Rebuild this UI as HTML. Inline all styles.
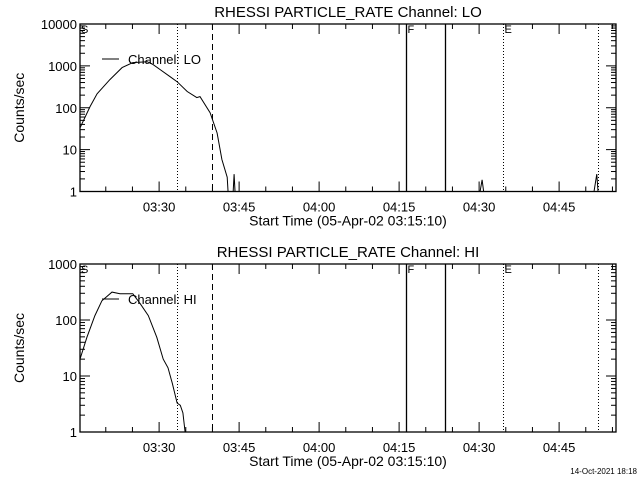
<!DOCTYPE html>
<html><head><meta charset="utf-8"><style>
html,body{margin:0;padding:0;background:#fff}
svg text{font-family:"Liberation Sans",sans-serif;fill:#000}
</style></head><body>
<svg id="c" width="640" height="480" xmlns="http://www.w3.org/2000/svg"></svg>
<script>
// data: minutes since 03:15:10, counts/sec
const loMinutes=[0,1.9,3.2,5.6,7.9,9.9,12.6,13.7,15.0,16.9,18.2,20.1,21.9,22.5,24.4,25.7,26.6,27.6,27.9,28.6,28.9,29.2,29.6,74.6,75.4,76.0,96.0,96.9,97.3];
const loValues=[33,107,215,470,910,1200,1260,1070,820,550,420,245,175,185,76,25,5.8,2.2,0.5,0.5,2.6,0.5,0.5,0.5,1.9,0.5,0.5,2.6,0.5];
const hiMinutes=[0,1.3,2.8,4.1,6.0,7.5,9.9,11.3,12.8,14.4,15.6,16.5,17.3,18.2,18.8,19.3,19.7,20.0];
const hiValues=[20,49,120,220,315,295,295,195,120,49,20,14,7.4,3.3,3.0,2.2,1.0,0.5];
const xTickLabels=["03:30","03:45","04:00","04:15","04:30","04:45"];
const xTickMinutes=[14.833,29.833,44.833,59.833,74.833,89.833];
const markerMinutes=[18.2,24.8,61.2,68.5,79.3,97.2];
const markerStyles=["dot","dash","solid","solid","dot","dot"];
const markerLabels=["","","F","","E",""];

const svg=document.getElementById('c');
const NS='http://www.w3.org/2000/svg';
function mk(tag,attrs,parent){const e=document.createElementNS(NS,tag);for(const k in attrs)e.setAttribute(k,attrs[k]);(parent||svg).appendChild(e);return e;}
const X0=80,X1=616,PXM=5.3333;
const xs=m=>X0+m*PXM;

function panel(top,bot,decades,title,chanName,mins,vals,legendY,prefix){
  const g=mk('g',{});
  
  
  const ys=v=>{const l=Math.log10(Math.max(v,1e-3));return bot-(l/decades)*(bot-top);};
  const t=mk('text',{x:348,y:top-7,'font-size':'15','text-anchor':'middle'},g);t.textContent=title;
  
  mk('rect',{x:X0,y:top,width:X1-X0,height:bot-top,fill:'none',stroke:'#000','stroke-width':1.3},g);
  for(let d=0;d<=decades;d++){
    const y=ys(Math.pow(10,d));
    mk('line',{x1:X0,x2:X0+10,y1:y,y2:y,stroke:'#000'},g);
    mk('line',{x1:X1-10,x2:X1,y1:y,y2:y,stroke:'#000'},g);
    const lb=mk('text',{x:77,y:y+5,'font-size':'13','text-anchor':'end'},g);lb.textContent=String(Math.pow(10,d));
    
    if(d<decades)for(let k=2;k<10;k++){const yy=ys(k*Math.pow(10,d));
      mk('line',{x1:X0,x2:X0+5,y1:yy,y2:yy,stroke:'#000'},g);
      mk('line',{x1:X1-5,x2:X1,y1:yy,y2:yy,stroke:'#000'},g);}
  }
  for(let m=4.833;m<100.4;m+=5){const x=xs(m);const major=Math.abs(((m-14.833)/15)-Math.round((m-14.833)/15))<0.01;
    const L=major?10:5;
    mk('line',{x1:x,x2:x,y1:bot,y2:bot-L,stroke:'#000'},g);
    mk('line',{x1:x,x2:x,y1:top,y2:top+L,stroke:'#000'},g);}
  xTickLabels.forEach((s,i)=>{const lb=mk('text',{x:xs(xTickMinutes[i]),y:bot+20,'font-size':'13','text-anchor':'middle'},g);lb.textContent=s;
    });
  const xl=mk('text',{x:348,y:bot+34,'font-size':'14','text-anchor':'middle'},g);xl.textContent='Start Time (05-Apr-02 03:15:10)';
  
  const cy=(top+bot)/2;
  const yl=mk('text',{x:24,y:cy,'font-size':'14','text-anchor':'middle',transform:`rotate(-90 24 ${cy})`},g);yl.textContent='Counts/sec';
  
  markerMinutes.forEach((m,i)=>{const x=Math.round(xs(m))+0.5;const st=markerStyles[i];
    const ln=mk('line',{x1:x,x2:x,y1:top,y2:bot,stroke:'#000','stroke-width':st==='solid'?1.3:1,'stroke-dasharray':st==='dot'?'1,2':st==='dash'?'6,4':'none'},g);
    
    if(markerLabels[i]){const lt=mk('text',{x:x+1,y:top+9,'font-size':'11'},g);lt.textContent=markerLabels[i];}});
  const sl=mk('text',{x:81,y:top+9,'font-size':'11'},g);sl.textContent='S';
  const cid=prefix+'clip';
  const cp=mk('clipPath',{id:cid},g);mk('rect',{x:X0,y:top,width:X1-X0,height:bot-top},cp);
  const pts=mins.map((m,i)=>xs(m).toFixed(1)+','+ys(vals[i]).toFixed(1)).join(' ');
  const pl=mk('polyline',{points:pts,fill:'none',stroke:'#000','stroke-width':1,'clip-path':`url(#${cid})`},g);
  
  const lg=mk('g',{},g);
  mk('line',{x1:102,x2:119,y1:legendY,y2:legendY,stroke:'#000'},lg);
  const lt=mk('text',{x:128,y:legendY+5,'font-size':'13'},lg);lt.textContent='Channel: '+chanName;
}
panel(24,191.5,4,'RHESSI PARTICLE_RATE Channel: LO','LO',loMinutes,loValues,59,'lo');
panel(264,432,3,'RHESSI PARTICLE_RATE Channel: HI','HI',hiMinutes,hiValues,299,'hi');
const ts=mk('text',{x:637,y:474,'font-size':'8','text-anchor':'end'});ts.textContent='14-Oct-2021 18:18';

</script>
</body></html>
